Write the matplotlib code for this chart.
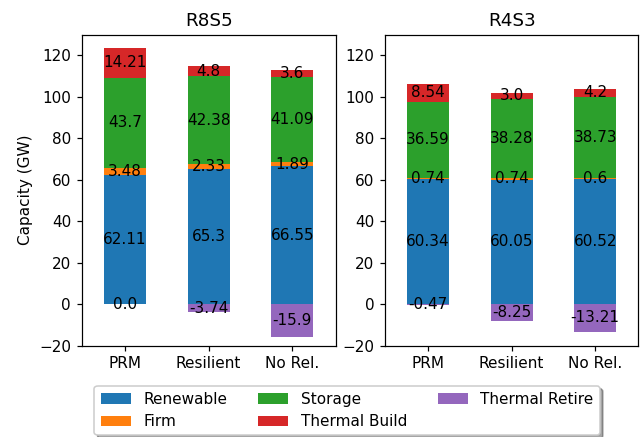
import numpy as np
from matplotlib import pyplot as plt

scenarios = ["R8S5", "R4S3"]
cases = ["PRM", "Resilient", "No Rel."]
categories = ["Renewable", "Firm", "Storage", "Thermal Build", "Thermal Retire"]
colors = ["#1f77b4", "#ff7f0e", "#2ca02c", "#d62728", "#9467bd"]

# values per scenario, one list per category, entries follow `cases`
r8s5_renewable = [62.11, 65.3, 66.55]
r8s5_firm = [3.48, 2.33, 1.89]
r8s5_storage = [43.7, 42.38, 41.09]
r8s5_build = [14.21, 4.8, 3.6]
r8s5_retire = [0.0, -3.74, -15.9]

r4s3_renewable = [60.34, 60.05, 60.52]
r4s3_firm = [0.74, 0.74, 0.6]
r4s3_storage = [36.59, 38.28, 38.73]
r4s3_build = [8.54, 3.0, 4.2]
r4s3_retire = [-0.47, -8.25, -13.21]

data = {
    "R8S5": [r8s5_renewable, r8s5_firm, r8s5_storage, r8s5_build, r8s5_retire],
    "R4S3": [r4s3_renewable, r4s3_firm, r4s3_storage, r4s3_build, r4s3_retire],
}

DPI = 110
fig = plt.figure(figsize=(644 / DPI, 437 / DPI), dpi=DPI)
ax1 = fig.add_axes([0.127, 0.209, 0.394, 0.7115])
ax2 = fig.add_axes([0.598, 0.209, 0.393, 0.7115])

x = np.arange(len(cases))
for ax, name in zip([ax1, ax2], scenarios):
    series = data[name]
    bottom = np.zeros(len(cases))
    for cat, vals, c in zip(categories[:4], series[:4], colors[:4]):
        bars = ax.bar(x, vals, 0.5, bottom=bottom, color=c, label=cat)
        ax.bar_label(bars, labels=[str(v) for v in vals], label_type="center")
        bottom += np.array(vals)
    bars = ax.bar(x, series[4], 0.5, color=colors[4], label=categories[4])
    ax.bar_label(bars, labels=[str(v) for v in series[4]], label_type="center")
    ax.set_xticks(x)
    ax.set_xticklabels(cases)
    ax.set_ylim(-20, 130)
    ax.set_xlim(-0.515, 2.515)
    ax.set_title(name)

ax1.set_ylabel("Capacity (GW)")

handles, labels = ax1.get_legend_handles_labels()
fig.legend(handles, labels, ncol=3, loc="lower center", bbox_to_anchor=(0.539, 0.0),
           shadow=True, borderaxespad=0.1)

fig.savefig("out.png", dpi=DPI)
